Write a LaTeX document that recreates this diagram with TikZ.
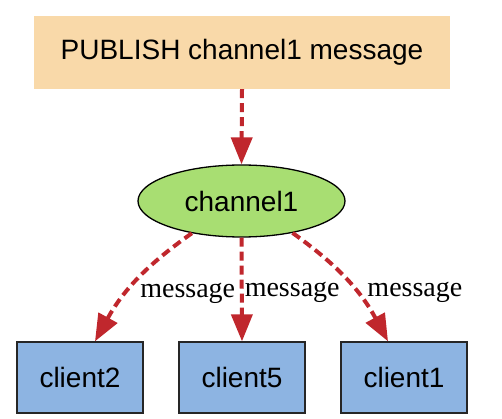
\documentclass[tikz,border=0pt]{standalone}
\usepackage{fontspec}
\setmainfont{Liberation Serif}
\setsansfont{Liberation Sans}
\usetikzlibrary{arrows.meta,shapes.geometric,positioning}

\definecolor{pubfill}{HTML}{F9D9A9}
\definecolor{chanfill}{HTML}{A8DE72}
\definecolor{clientfill}{HTML}{8DB4E2}
\definecolor{msgred}{HTML}{C0272D}

\begin{document}
\begin{tikzpicture}[x=1pt,y=-1pt,
    sans/.style={font=\sffamily\fontsize{28}{34}\selectfont},
    pub/.style={sans,rectangle,fill=pubfill,minimum width=416pt,minimum height=73pt,inner sep=0pt},
    chan/.style={sans,ellipse,draw=black,fill=chanfill,line width=1.3pt,minimum width=207pt,minimum height=72pt,inner sep=0pt},
    client/.style={sans,rectangle,draw=black!85,fill=clientfill,line width=1.3pt,minimum width=126pt,minimum height=71pt,inner sep=0pt},
    msg/.style={->,>={Triangle[length=27pt,width=21pt]},draw=msgred,line width=4pt,dash pattern=on 9pt off 5pt},
    lbl/.style={font=\rmfamily\fontsize{28}{32}\selectfont,inner sep=1pt,anchor=west}]
    \useasboundingbox (0,0) rectangle (502,419);
    \node[pub] (p) at (242,52.5) {PUBLISH channel1 message};
    \node[chan] (ch) at (241.5,201) {channel1};
    \node[client] (c2) at (80,377.5) {client2};
    \node[client] (c5) at (242,377.5) {client5};
    \node[client] (c1) at (404,377.5) {client1};
    \draw[msg] (p.south) -- (ch.north);
    \draw[msg] (ch.213) to[bend right=13] node[lbl,pos=0.5,xshift=1pt,yshift=-12pt] {message} ([xshift=15pt]c2.north);
    \draw[msg] (ch.south) -- node[lbl,pos=0.5,yshift=-3pt] {message} (c5.north);
    \draw[msg] (ch.328) to[bend left=13] node[lbl,pos=0.5,xshift=17pt,yshift=-12pt] {message} ([xshift=-16pt]c1.north);
\end{tikzpicture}
\end{document}
